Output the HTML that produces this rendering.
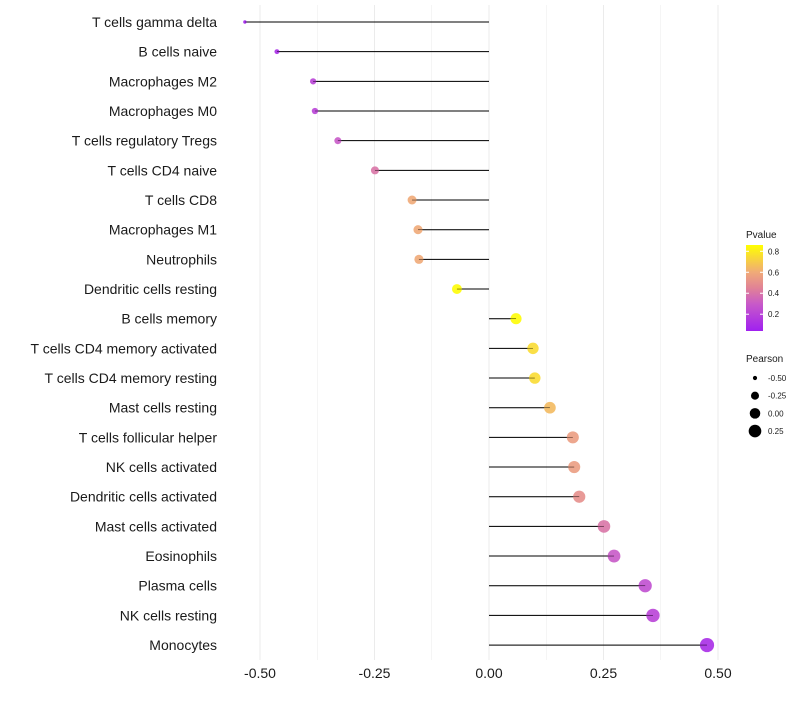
<!DOCTYPE html>
<html><head><meta charset="utf-8"><style>
body{margin:0;background:#fff;font-family:"Liberation Sans",sans-serif}
</style></head><body>
<svg id="c" width="800" height="700" xmlns="http://www.w3.org/2000/svg"></svg>
<script>
const categories=["T cells gamma delta","B cells naive","Macrophages M2","Macrophages M0","T cells regulatory  Tregs","T cells CD4 naive","T cells CD8","Macrophages M1","Neutrophils","Dendritic cells resting","B cells memory","T cells CD4 memory activated","T cells CD4 memory resting","Mast cells resting","T cells follicular helper","NK cells activated","Dendritic cells activated","Mast cells activated","Eosinophils","Plasma cells","NK cells resting","Monocytes"];
const pearson=[-0.533,-0.463,-0.384,-0.380,-0.330,-0.249,-0.168,-0.155,-0.153,-0.070,0.059,0.096,0.100,0.133,0.183,0.186,0.197,0.251,0.273,0.341,0.358,0.476];
const pvalue=[0.05,0.1,0.2,0.2,0.3,0.4,0.6,0.6,0.6,0.85,0.85,0.75,0.75,0.65,0.55,0.55,0.5,0.4,0.3,0.25,0.2,0.1];
const xTicks=[-0.5,-0.25,0,0.25,0.5];
const xTickLabels=["-0.50","-0.25","0.00","0.25","0.50"];
const pTicks=[0.2,0.4,0.6,0.8];
const sizeTicks=[-0.5,-0.25,0,0.25];
const sizeTickLabels=["-0.50","-0.25","0.00","0.25"];

const svg=document.getElementById('c');
const NS="http://www.w3.org/2000/svg";
function el(t,a,p){const e=document.createElementNS(NS,t);for(const k in a)e.setAttribute(k,a[k]);(p||svg).appendChild(e);return e;}
const x=v=>489+v*458;
const y=i=>22+i*29.67;
const rS=v=>Math.sqrt(Math.max(1,3+(v+0.53)*47));
const stops=[[0.04,[160,32,240]],[0.3,[200,90,200]],[0.45,[225,130,150]],[0.6,[240,170,120]],[0.86,[255,255,0]]];
function col(p){p=Math.max(0.04,Math.min(0.86,p));for(let i=0;i<stops.length-1;i++){const a=stops[i],b=stops[i+1];if(p<=b[0]){const t=(p-a[0])/(b[0]-a[0]);return `rgb(${a[1].map((c,j)=>Math.round(c+(b[1][j]-c)*t)).join(',')})`;}}return 'rgb(255,255,0)';}
const grid=el('g',{});


for(let v=-0.625;v<=0.5001;v+=0.125){if(x(v)<232)continue;el('line',{x1:x(v),x2:x(v),y1:5,y2:660,stroke:'#ebebeb','stroke-width':Math.abs(v*4-Math.round(v*4))<1e-6?1:0.5},grid);}
categories.forEach((c,i)=>{
 const g=el('g',{});
 
 
 const t=el('text',{x:217,y:y(i)+5,'text-anchor':'end','font-size':14,fill:'#1a1a1a'},g);t.textContent=c;
 
 
 el('line',{x1:x(0),x2:x(pearson[i]),y1:y(i),y2:y(i),stroke:'#000','stroke-width':1},g);
 const d=el('circle',{cx:x(pearson[i]),cy:y(i),r:rS(pearson[i]),fill:col(pvalue[i]),'fill-opacity':0.9},g);
 
 
 el('line',{x1:x(0),x2:x(pearson[i]),y1:y(i),y2:y(i),stroke:'#000','stroke-width':0.6,'stroke-opacity':0.6},g);
});
xTicks.forEach((v,i)=>{const t=el('text',{x:x(v),y:678,'text-anchor':'middle','font-size':14,fill:'#1a1a1a'});t.textContent=xTickLabels[i];

});
const lg=el('g',{});


const tt=el('text',{x:746,y:238,'font-size':10,fill:'#1a1a1a'},lg);tt.textContent='Pvalue';
const defs=el('defs',{});const gr=el('linearGradient',{id:'gr',x1:0,y1:1,x2:0,y2:0},defs);
stops.forEach(s=>el('stop',{offset:(s[0]-0.04)/0.82,'stop-color':`rgb(${s[1].join(',')})`},gr));
el('rect',{x:746,y:245,width:17,height:86,fill:'url(#gr)'},lg);
const py=p=>331-(p-0.04)/0.82*86;
pTicks.forEach(p=>{el('line',{x1:746,x2:749,y1:py(p),y2:py(p),stroke:'#fff'},lg);el('line',{x1:760,x2:763,y1:py(p),y2:py(p),stroke:'#fff'},lg);
const t=el('text',{x:768,y:py(p)+3,'font-size':8,fill:'#1a1a1a'},lg);t.textContent=p.toFixed(1);});
const sg=el('g',{});


const st=el('text',{x:746,y:362,'font-size':10,fill:'#1a1a1a'},sg);st.textContent='Pearson';
sizeTicks.forEach((v,i)=>{const cy=378+i*17.7;el('circle',{cx:755,cy:cy,r:rS(v),fill:'#000'},sg);
const t=el('text',{x:768,y:cy+3,'font-size':8,fill:'#1a1a1a'},sg);t.textContent=sizeTickLabels[i];});
</script>
</body></html>
